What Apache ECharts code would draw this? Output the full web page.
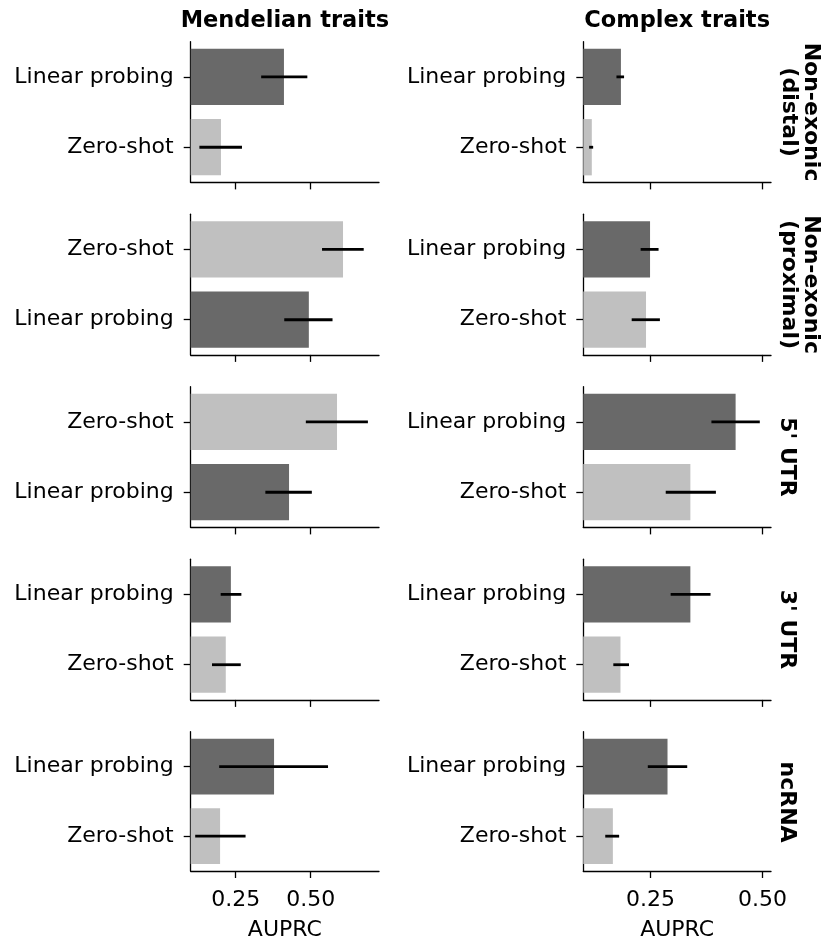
<!DOCTYPE html>
<html><head><meta charset="utf-8">
<script src="https://cdn.jsdelivr.net/npm/echarts@6/dist/echarts.min.js"></script>
<style>html,body{margin:0;padding:0;background:#fff}#c{width:825px;height:942px}</style>
</head><body><div id="c"></div>
<script>
// ---- data ----
const colTitles = ['Mendelian traits', 'Complex traits'];
const rowLabels = ['Non-exonic\n(distal)', 'Non-exonic\n(proximal)', "5' UTR", "3' UTR", 'ncRNA'];
const methods = ['Linear probing', 'Zero-shot'];
// top-to-bottom order of bars in each panel
const mendelianOrder = [
  ['Linear probing', 'Zero-shot'],
  ['Zero-shot', 'Linear probing'],
  ['Zero-shot', 'Linear probing'],
  ['Linear probing', 'Zero-shot'],
  ['Linear probing', 'Zero-shot']
];
const complexOrder = [
  ['Linear probing', 'Zero-shot'],
  ['Linear probing', 'Zero-shot'],
  ['Linear probing', 'Zero-shot'],
  ['Linear probing', 'Zero-shot'],
  ['Linear probing', 'Zero-shot']
];
// AUPRC per row (distal, proximal, 5'UTR, 3'UTR, ncRNA)
const mendelianLinear   = [0.411, 0.494, 0.428, 0.234, 0.378];
const mendelianLinearLo = [0.335, 0.412, 0.349, 0.200, 0.195];
const mendelianLinearHi = [0.489, 0.573, 0.504, 0.269, 0.558];
const mendelianZero     = [0.201, 0.608, 0.588, 0.217, 0.198];
const mendelianZeroLo   = [0.129, 0.538, 0.484, 0.171, 0.115];
const mendelianZeroHi   = [0.271, 0.677, 0.691, 0.267, 0.283];
const complexLinear     = [0.184, 0.249, 0.440, 0.339, 0.288];
const complexLinearLo   = [0.174, 0.228, 0.386, 0.295, 0.244];
const complexLinearHi   = [0.191, 0.268, 0.494, 0.384, 0.332];
const complexZero       = [0.119, 0.240, 0.339, 0.183, 0.166];
const complexZeroLo     = [0.113, 0.208, 0.284, 0.167, 0.149];
const complexZeroHi     = [0.122, 0.271, 0.396, 0.202, 0.180];
const xTicks = [0.25, 0.50];
const xAxisName = 'AUPRC';

// ---- layout / style ----
const FONT = 'DejaVu Sans';
const FS = 22;
const FSB = 22.5;
const methodColor = {'Linear probing': '#696969', 'Zero-shot': '#c0c0c0'};
const colLeft = [190.7, 583.3];
const colWidth = [188.3, 187.7];
const xMin = [0.1, 0.1];
const xMax = [0.728, 0.519];
const rowTop = [41.7, 214.2, 386.7, 559.2, 731.7];
const panelH = 140.7;

const cols = [
  {order: mendelianOrder,
   vals: {'Linear probing': [mendelianLinear, mendelianLinearLo, mendelianLinearHi],
          'Zero-shot': [mendelianZero, mendelianZeroLo, mendelianZeroHi]}},
  {order: complexOrder,
   vals: {'Linear probing': [complexLinear, complexLinearLo, complexLinearHi],
          'Zero-shot': [complexZero, complexZeroLo, complexZeroHi]}}
];

const grid = [], xAxis = [], yAxis = [], series = [];
let gi = 0;
for (let c = 0; c < 2; c++) {
  for (let r = 0; r < 5; r++) {
    const order = cols[c].order[r];
    const cats = [order[1], order[0]]; // bottom first
    grid.push({left: colLeft[c], top: rowTop[r], width: colWidth[c], height: panelH, containLabel: false});
    xAxis.push({
      gridIndex: gi, type: 'value', min: xMin[c], max: xMax[c],
      splitLine: {show: false},
      axisLine: {show: true, onZero: false, lineStyle: {color: '#000', width: 1.3}},
      axisTick: {show: true, length: 7, customValues: xTicks, lineStyle: {color: '#000', width: 1.3}},
      axisLabel: {show: r === 4, customValues: xTicks, formatter: v => v.toFixed(2),
                  fontSize: FS, color: '#000', fontFamily: FONT, margin: 18},
      name: r === 4 ? xAxisName : '', nameLocation: 'middle', nameGap: 48,
      nameTextStyle: {fontSize: FS, color: '#000', fontFamily: FONT}
    });
    yAxis.push({
      gridIndex: gi, type: 'category', data: cats,
      axisLine: {show: true, onZero: false, lineStyle: {color: '#000', width: 1.3}},
      axisTick: {show: true, alignWithLabel: true, length: 7, lineStyle: {color: '#000', width: 1.3}},
      axisLabel: {fontSize: FS, color: '#000', fontFamily: FONT, margin: 17},
      splitLine: {show: false}
    });
    series.push({
      type: 'bar', xAxisIndex: gi, yAxisIndex: gi, barCategoryGap: '20%', clip: true,
      data: cats.map(m => ({value: cols[c].vals[m][0][r], itemStyle: {color: methodColor[m]}}))
    });
    series.push({
      type: 'custom', xAxisIndex: gi, yAxisIndex: gi, z: 5,
      data: cats.map((m, i) => [cols[c].vals[m][1][r], cols[c].vals[m][2][r], i]),
      renderItem: function (params, api) {
        const a = api.coord([api.value(0), api.value(2)]);
        const b = api.coord([api.value(1), api.value(2)]);
        return {type: 'line', shape: {x1: a[0], y1: a[1], x2: b[0], y2: b[1]},
                style: {stroke: '#000', lineWidth: 2.8}};
      }
    });
    gi++;
  }
}

const graphic = [];
for (let c = 0; c < 2; c++) {
  graphic.push({type: 'text', x: colLeft[c] + colWidth[c] / 2, y: 21,
    style: {text: colTitles[c], font: 'bold ' + FSB + 'px "' + FONT + '"', fill: '#000',
            textAlign: 'center', textVerticalAlign: 'middle'}});
}
for (let r = 0; r < 5; r++) {
  const twoLine = rowLabels[r].indexOf('\n') >= 0;
  graphic.push({type: 'text', x: twoLine ? 800 : 787, y: rowTop[r] + panelH / 2, rotation: -Math.PI / 2,
    style: {text: rowLabels[r], font: 'bold ' + FS + 'px "' + FONT + '"', fill: '#000',
            textAlign: 'center', textVerticalAlign: 'middle', lineHeight: 22}});
}

const chart = echarts.init(document.getElementById('c'));
chart.setOption({animation: false, backgroundColor: '#fff', grid, xAxis, yAxis, series, graphic});
</script></body></html>
